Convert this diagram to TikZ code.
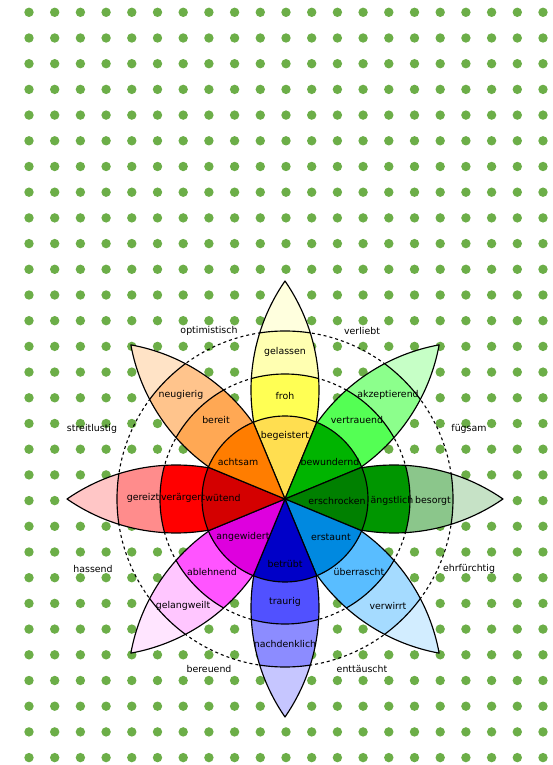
\documentclass[tikz,border=0pt]{standalone}
\usepackage{fontspec}
\setmainfont{DejaVu Sans}
\usepackage{xcolor}

\definecolor{dotgreen}{RGB}{108,174,72}
% wedge / band1 / band2 / tip for each petal
\definecolor{joyW}{RGB}{255,222,80}   \definecolor{joyA}{RGB}{255,255,84}
\definecolor{joyB}{RGB}{255,255,177}  \definecolor{joyC}{RGB}{255,255,222}
\definecolor{truW}{RGB}{0,180,0}      \definecolor{truA}{RGB}{84,255,84}
\definecolor{truB}{RGB}{140,255,140}  \definecolor{truC}{RGB}{198,255,198}
\definecolor{feaW}{RGB}{0,128,0}      \definecolor{feaA}{RGB}{0,150,0}
\definecolor{feaB}{RGB}{139,198,139}  \definecolor{feaC}{RGB}{198,226,198}
\definecolor{surW}{RGB}{0,137,224}    \definecolor{surA}{RGB}{89,189,255}
\definecolor{surB}{RGB}{165,219,255}  \definecolor{surC}{RGB}{210,237,255}
\definecolor{sadW}{RGB}{0,0,200}      \definecolor{sadA}{RGB}{81,81,255}
\definecolor{sadB}{RGB}{140,140,255}  \definecolor{sadC}{RGB}{198,198,255}
\definecolor{disW}{RGB}{222,0,222}    \definecolor{disA}{RGB}{255,84,255}
\definecolor{disB}{RGB}{255,198,255}  \definecolor{disC}{RGB}{255,229,255}
\definecolor{angW}{RGB}{212,0,0}      \definecolor{angA}{RGB}{255,0,0}
\definecolor{angB}{RGB}{255,140,140}  \definecolor{angC}{RGB}{255,198,198}
\definecolor{antW}{RGB}{255,125,0}    \definecolor{antA}{RGB}{255,168,84}
\definecolor{antB}{RGB}{255,196,140}  \definecolor{antC}{RGB}{255,227,198}

\begin{document}
\begin{tikzpicture}[x=1pt, y=1pt,
  rim/.style  = {draw=black, line width=1.15pt, line join=round},
  ring/.style = {draw=black, line width=1.1pt, dash pattern=on 3pt off 3pt},
  lab/.style  = {font=\fontsize{9.4}{11}\selectfont, text=black, inner sep=0pt},
  dot/.style  = {fill=dotgreen}
]
\useasboundingbox (-285,-266) rectangle (267,499);
\fill[white] (-285,-266) rectangle (267,499);

%% ---- dotted paper -------------------------------------------------
\foreach \i in {0,...,20}
  \foreach \j in {0,...,29}
    \fill[dot] (-256+25.7*\i, 486.7-25.7*\j) circle (4.7pt);

%% ---- dashed rings -------------------------------------------------
\draw[ring] (0,0) circle (125pt);
\draw[ring] (0,0) circle (168pt);

%% ---- petals -------------------------------------------------------
\foreach \a/\ca/\cb/\cc in {90/joyA/joyB/joyC, 45/truA/truB/truC,
    0/feaA/feaB/feaC, -45/surA/surB/surC, -90/sadA/sadB/sadC,
    -135/disA/disB/disC, 180/angA/angB/angC, 135/antA/antB/antC}
{
  \begin{scope}[rotate=\a]
    \begin{scope}
      \clip (0,0) arc[start angle=124.65, end angle=55.35, radius=191.7pt]
                  arc[start angle=-55.35, end angle=-124.65, radius=191.7pt] -- cycle;
      \fill[\cc] (0,0) circle (230pt);
      \fill[\cb, rim] (0,0) circle (168pt);
      \fill[\ca, rim] (0,0) circle (125pt);
    \end{scope}
    \draw[rim] (0,0) arc[start angle=124.65, end angle=55.35, radius=191.7pt]
                     arc[start angle=-55.35, end angle=-124.65, radius=191.7pt] -- cycle;
  \end{scope}
}

%% ---- inner wheel --------------------------------------------------
\foreach \a/\cw in {90/joyW, 45/truW, 0/feaW, -45/surW,
    -90/sadW, -135/disW, 180/angW, 135/antW}
  \filldraw[rim, fill=\cw] (0,0) -- (\a-22.5:83pt)
    arc[start angle=\a-22.5, end angle=\a+22.5, radius=83pt] -- cycle;

%% ---- petal labels -------------------------------------------------
\node[lab] (begeistert)   at (0,63)      {begeistert};
\node[lab] (froh)         at (0,103)     {froh};
\node[lab] (gelassen)     at (0,147)     {gelassen};
\node[lab] (bewundernd)   at (45,37)     {bewundernd};
\node[lab] (vertrauend)   at (72,79)     {vertrauend};
\node[lab] (akzeptierend) at (103,104)   {akzeptierend};
\node[lab] (erschrocken)  at (52,-2)     {erschrocken};
\node[lab] (aengstlich)   at (107,-2)    {ängstlich};
\node[lab] (besorgt)      at (148,-2)    {besorgt};
\node[lab] (erstaunt)     at (46,-38)    {erstaunt};
\node[lab] (ueberrascht)  at (74,-73)    {überrascht};
\node[lab] (verwirrt)     at (103,-107)  {verwirrt};
\node[lab] (betruebt)     at (0,-65)     {betrübt};
\node[lab] (traurig)      at (0,-103)    {traurig};
\node[lab] (nachdenklich) at (0,-145)    {nachdenklich};
\node[lab] (angewidert)   at (-42,-38)   {angewidert};
\node[lab] (ablehnend)    at (-73,-73)   {ablehnend};
\node[lab] (gelangweilt)  at (-102,-107) {gelangweilt};
\node[lab] (wuetend)      at (-62,1)     {wütend};
\node[lab] (veraergert)   at (-102,1)    {verärgert};
\node[lab] (gereizt)      at (-142,1)    {gereizt};
\node[lab] (achtsam)      at (-47,37)    {achtsam};
\node[lab] (bereit)       at (-69,79)    {bereit};
\node[lab] (neugierig)    at (-104,104)  {neugierig};

%% ---- labels between petals ----------------------------------------
\node[lab] (optimistisch) at (-76,168)   {optimistisch};
\node[lab] (verliebt)     at (77,168)    {verliebt};
\node[lab] (fuegsam)      at (184,70)    {fügsam};
\node[lab] (ehrfuerchtig) at (184,-70)   {ehrfürchtig};
\node[lab] (enttaeuscht)  at (77,-170)   {enttäuscht};
\node[lab] (bereuend)     at (-76,-170)  {bereuend};
\node[lab] (hassend)      at (-192,-70)  {hassend};
\node[lab] (streitlustig) at (-193,70)   {streitlustig};
\end{tikzpicture}
\end{document}
